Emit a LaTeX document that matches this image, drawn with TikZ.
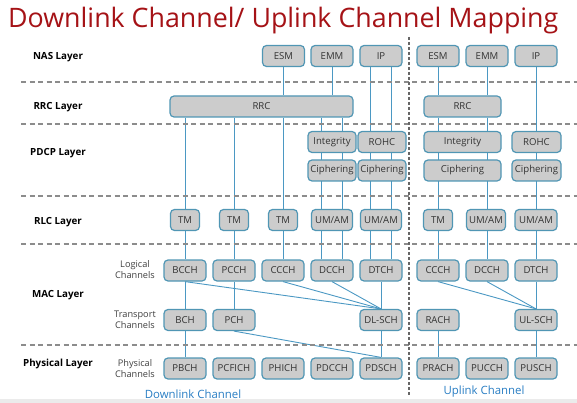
\documentclass[tikz,border=0pt]{standalone}
\usepackage{fontspec}
\setmainfont{Open Sans}
\usetikzlibrary{backgrounds}
\definecolor{boxfill}{RGB}{204,204,204}
\definecolor{boxline}{RGB}{80,150,180}
\definecolor{linkblue}{RGB}{75,152,195}
\definecolor{titlered}{RGB}{165,18,22}
\definecolor{labelblue}{RGB}{40,125,195}
\begin{document}
\begin{tikzpicture}[x=1pt, y=-1pt,
    box/.style = {draw=boxline, fill=boxfill, rounded corners=4pt, line width=1.2pt, minimum width=42pt, minimum height=21pt, inner sep=0pt, font=\fontsize{9.6}{10}\selectfont, text=black!80},
    layer/.style = {font=\fontsize{9.8}{11}\selectfont\bfseries},
    chan/.style = {font=\fontsize{9.2}{11}\selectfont, align=center, text=black!75},
    link/.style = {draw=linkblue, line width=0.9pt},
    sep/.style = {draw=black!45, line width=1.1pt, dash pattern=on 5pt off 3.5pt}]
    \useasboundingbox (0,0) rectangle (577,403);
    \fill[black!8] (0,399) rectangle (577,403);
    \node[anchor=base west, inner sep=0pt, text=titlered, font=\fontsize{26.8}{30}\selectfont] (title) at (8,28) {Downlink Channel/ Uplink Channel Mapping};
    % layers
    \foreach \y in {82,124,196,244,345}
        \draw[sep] (21,\y) -- (577,\y);
    \draw[black!60, line width=1.6pt, dash pattern=on 3pt off 2pt] (409,37) -- (409,395);
    \node[layer] (nas) at (58,57) {NAS Layer};
    \node[layer] (rrc) at (58,107) {RRC Layer};
    \node[layer] (pdcp) at (58,153) {PDCP Layer};
    \node[layer] (rlc) at (58,222) {RLC Layer};
    \node[layer] (mac) at (58,295) {MAC Layer};
    \node[layer] (phy) at (58,364) {Physical Layer};
    \node[chan] (logical) at (135,270) {Logical\\Channels};
    \node[chan] (transport) at (135,320) {Transport\\Channels};
    \node[chan] (physical) at (135,369) {Physical\\Channels};
    % NAS
    \node[box] (dlesm) at (283.5,56) {ESM};
    \node[box] (dlemm) at (332,56) {EMM};
    \node[box] (dlip) at (381,56) {IP};
    \node[box] (ulesm) at (438,56) {ESM};
    \node[box] (ulemm) at (487,56) {EMM};
    \node[box] (ulip) at (536,56) {IP};
    % RRC
    \node[box, minimum width=183pt] (dlrrc) at (261.5,106.5) {RRC};
    \node[box, minimum width=77pt] (ulrrc) at (462.5,106.5) {RRC};
    % PDCP
    \node[box, minimum width=48pt] (dlint) at (332,142) {Integrity};
    \node[box, minimum width=48pt] (dlrohc) at (382,142) {ROHC};
    \node[box, minimum width=48pt] (dlciph1) at (332,170.5) {Ciphering};
    \node[box, minimum width=48pt] (dlciph2) at (382,170.5) {Ciphering};
    \node[box, minimum width=77pt] (ulint) at (462.5,142) {Integrity};
    \node[box, minimum width=49pt] (ulrohc) at (536.5,142) {ROHC};
    \node[box, minimum width=77pt] (ulciph1) at (462.5,170.5) {Ciphering};
    \node[box, minimum width=49pt] (ulciph2) at (536.5,170.5) {Ciphering};
    % RLC
    \node[box, minimum width=29pt] (tm1) at (185,220) {TM};
    \node[box, minimum width=29pt] (tm2) at (234,220) {TM};
    \node[box, minimum width=29pt] (tm3) at (283,220) {TM};
    \node[box, minimum width=41pt] (dlum1) at (332,220) {UM/AM};
    \node[box, minimum width=41pt] (dlum2) at (381,220) {UM/AM};
    \node[box, minimum width=29pt] (ultm) at (438,220) {TM};
    \node[box, minimum width=39pt] (ulum1) at (486,220) {UM/AM};
    \node[box, minimum width=42pt] (ulum2) at (536,220) {UM/AM};
    % MAC
    \node[box] (bcch) at (185,270.5) {BCCH};
    \node[box] (pcch) at (234,270.5) {PCCH};
    \node[box] (dlccch) at (283,270.5) {CCCH};
    \node[box] (dldcch) at (332,270.5) {DCCH};
    \node[box] (dldtch) at (381,270.5) {DTCH};
    \node[box] (ulccch) at (438,270.5) {CCCH};
    \node[box] (uldcch) at (487,270.5) {DCCH};
    \node[box] (uldtch) at (536,270.5) {DTCH};
    \node[box] (bch) at (185,320) {BCH};
    \node[box] (pch) at (234,320) {PCH};
    \node[box] (dlsch) at (381,320) {DL-SCH};
    \node[box] (rach) at (438,320) {RACH};
    \node[box] (ulsch) at (536,320) {UL-SCH};
    % PHY
    \node[box] (pbch) at (185,368.5) {PBCH};
    \node[box] (pcfich) at (234,368.5) {PCFICH};
    \node[box] (phich) at (283,368.5) {PHICH};
    \node[box] (pdcch) at (332,368.5) {PDCCH};
    \node[box] (pdsch) at (381,368.5) {PDSCH};
    \node[box] (prach) at (438,368.5) {PRACH};
    \node[box] (pucch) at (487,368.5) {PUCCH};
    \node[box] (pusch) at (536,368.5) {PUSCH};
    \node[text=labelblue, font=\fontsize{11.4}{12}\selectfont] (dllabel) at (193,394) {Downlink Channel};
    \node[text=labelblue, font=\fontsize{11.4}{12}\selectfont] (ullabel) at (484,392) {Uplink Channel};
    \begin{scope}[on background layer]
        % downlink
        \draw[link] (dlesm.south) -- (dlesm.south |- dlrrc.north);
        \draw[link] (dlemm.south) -- (dlemm.south |- dlrrc.north);
        \draw[link] ([xshift=-10.5pt]dlip.south) -- ([xshift=-10.5pt]dldtch.north);
        \draw[link] ([xshift=10.5pt]dlip.south) -- ([xshift=10.5pt]dldtch.north);
        \draw[link] (bcch.north |- dlrrc.south) -- (bcch.north);
        \draw[link] (pcch.north |- dlrrc.south) -- (pcch.north);
        \draw[link] (dlccch.north |- dlrrc.south) -- (dlccch.north);
        \draw[link] ([xshift=-10.5pt]dldcch.north |- dlrrc.south) -- ([xshift=-10.5pt]dldcch.north);
        \draw[link] ([xshift=10.5pt]dldcch.north |- dlrrc.south) -- ([xshift=10.5pt]dldcch.north);
        \draw[link] (bcch) -- (bch) -- (pbch);
        \draw[link] (pcch) -- (pch);
        \draw[link] (dldtch) -- (dlsch) -- (pdsch);
        \draw[link] (bcch.south) -- (dlsch.north);
        \draw[link] (dlccch.south) -- (dlsch.north);
        \draw[link] (dldcch.south) -- (dlsch.north);
        \draw[link] (pch.south) -- (pdsch.north);
        % uplink
        \draw[link] (ulesm.south) -- (ulesm.south |- ulrrc.north);
        \draw[link] (ulemm.south) -- (ulemm.south |- ulrrc.north);
        \draw[link] (ulip) -- (uldtch);
        \draw[link] (ulccch.north |- ulrrc.south) -- (ulccch);
        \draw[link] (uldcch.north |- ulrrc.south) -- (uldcch);
        \draw[link] (uldtch) -- (ulsch) -- (pusch);
        \draw[link] (rach) -- (prach);
        \draw[link] (ulccch.south) -- (ulsch.north);
        \draw[link] (uldcch.south) -- (ulsch.north);
    \end{scope}
\end{tikzpicture}
\end{document}
